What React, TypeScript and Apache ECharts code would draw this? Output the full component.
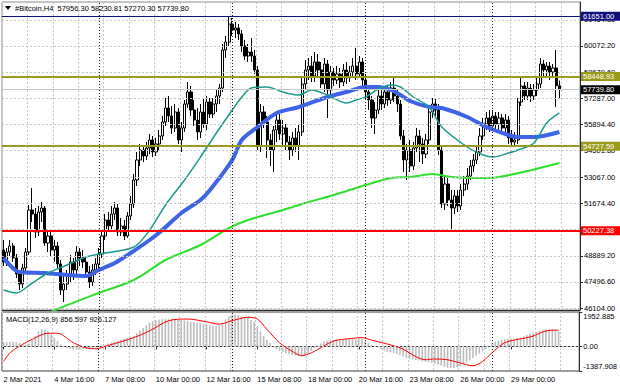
import React, { useEffect, useRef } from "react";
import * as echarts from "echarts";

// ---------- data ----------
const symbolName = "#Bitcoin,H4";

const opens = [
  49196, 48556, 49089, 49409, 48770, 47917, 47383, 48236, 49089, 51328,
  51115, 50156, 51222, 51435, 49569, 49942, 49196, 49409, 48450, 47064,
  47383, 47810, 48556, 48130, 49089, 48770, 48556, 48023, 47490, 48130,
  48450, 48983, 49942, 50795, 50475, 51115, 51435, 50156, 50475, 49942,
  51009, 51648, 52928, 53994, 54527, 54207, 54634, 55060, 54420, 54847,
  55273, 56020, 56766, 56340, 55700, 56553, 55060, 55700, 56979, 57619,
  56659, 56126, 55487, 56553, 55913, 57086, 56446, 56979, 57406, 57832,
  59858, 60285, 61244, 60924, 61031, 60711, 60071, 59538, 59751, 59538,
  58792, 54740, 56553, 56020, 55060, 54527, 55593, 56126, 55380, 55700,
  54954, 54527, 55167, 54740, 55487, 58046, 58792, 59005, 58472, 59218,
  58792, 58046, 59112, 57726, 58685, 58259, 58579, 58152, 58792, 58365,
  58685, 59005, 58579, 59218, 58259, 57619, 57193, 56233, 56659, 57406,
  56979, 57619, 57193, 57832, 57406, 56979, 55273, 53994, 54527, 53674,
  54634, 55273, 54847, 54314, 55060, 56553, 56979, 56659, 54527, 51648,
  52715, 51862, 51435, 52075, 51542, 52395, 52715, 53141, 53674, 53994,
  54420, 55273, 55913, 56233, 55806, 56340, 55913, 56233, 55700, 56126,
  55167, 54954, 55060, 57086, 57939, 57406, 57832, 57406, 57726, 58046,
  59112, 58792, 59005, 58685, 58898, 57956.3,
];

const closes = [
  48556, 49089, 49409, 48770, 47917, 47383, 48236, 49089, 51328, 51115,
  50156, 51222, 51435, 49569, 49942, 49196, 49409, 48450, 47064, 47383,
  47810, 48556, 48130, 49089, 48770, 48556, 48023, 47490, 48130, 48450,
  48983, 49942, 50795, 50475, 51115, 51435, 50156, 50475, 49942, 51009,
  51648, 52928, 53994, 54527, 54207, 54634, 55060, 54420, 54847, 55273,
  56020, 56766, 56340, 55700, 56553, 55060, 55700, 56979, 57619, 56659,
  56126, 55487, 56553, 55913, 57086, 56446, 56979, 57406, 57832, 59858,
  60285, 61244, 60924, 61031, 60711, 60071, 59538, 59751, 59538, 58792,
  54740, 56553, 56020, 55060, 54527, 55593, 56126, 55380, 55700, 54954,
  54527, 55167, 54740, 55487, 58046, 58792, 59005, 58472, 59218, 58792,
  58046, 59112, 57726, 58685, 58259, 58579, 58152, 58792, 58365, 58685,
  59005, 58579, 59218, 58259, 57619, 57193, 56233, 56659, 57406, 56979,
  57619, 57193, 57832, 57406, 56979, 55273, 53994, 54527, 53674, 54634,
  55273, 54847, 54314, 55060, 56553, 56979, 56659, 54527, 51648, 52715,
  51862, 51435, 52075, 51542, 52395, 52715, 53141, 53674, 53994, 54420,
  55273, 55913, 56233, 55806, 56340, 55913, 56233, 55700, 56126, 55167,
  54954, 55060, 57086, 57939, 57406, 57832, 57406, 57726, 58046, 59112,
  58792, 59005, 58685, 58898, 57956.3, 57739.8,
];

const highs = [
  49729, 49303, 49729, 49569, 48983, 48130, 48450, 49303, 51595, 52501,
  51435, 51542, 51755, 51542, 50262, 50156, 49729, 49623, 48663, 47810,
  48130, 48930, 48770, 49409, 49303, 49196, 48770, 48343, 48450, 48770,
  49303, 50262, 51115, 51222, 51542, 51755, 51648, 50902, 50795, 51222,
  52075, 53248, 54420, 54847, 54794, 54954, 55380, 55273, 55167, 55593,
  56340, 57299, 57406, 56873, 56979, 56766, 56020, 57193, 58152, 57939,
  57193, 56766, 56979, 57299, 57406, 57299, 57299, 57726, 58046, 60178,
  60604, 61620, 61560, 61351, 61244, 60924, 60391, 60178, 60498, 59858,
  59005, 56979, 56873, 56340, 55380, 55806, 56446, 56446, 56126, 55913,
  55273, 55487, 55700, 55913, 58365, 59325, 59432, 59538, 59751, 59645,
  59218, 59432, 59325, 59005, 58898, 59005, 58898, 59112, 59218, 59005,
  59432, 59965, 59538, 59432, 58579, 57939, 57406, 57086, 57726, 57832,
  57939, 57939, 58152, 58419, 57726, 57193, 55593, 54847, 55060, 54954,
  55700, 55593, 55167, 55380, 56873, 57299, 57299, 56979, 54740, 53141,
  53034, 52395, 52395, 52395, 52715, 53141, 53567, 53994, 54314, 54740,
  55700, 56233, 56553, 56659, 56659, 56553, 56553, 56446, 56446, 56340,
  55593, 55487, 57299, 58365, 58152, 58152, 58046, 58046, 58365, 59432,
  59325, 59218, 59218, 59112, 59858, 58230.81,
];

const lows = [
  48343, 48343, 48876, 48556, 47703, 47064, 47170, 48023, 48930, 50689,
  49836, 49942, 50689, 49409, 49089, 48876, 48556, 48236, 46797, 46424,
  47064, 47490, 47597, 47917, 48343, 48236, 47810, 47170, 47277, 47863,
  48236, 48770, 49729, 50156, 50262, 50795, 49942, 49942, 49729, 49836,
  50795, 51435, 52608, 53674, 53887, 53994, 54314, 54154, 54207, 54527,
  55060, 55806, 56020, 55380, 55487, 54847, 54420, 55487, 56766, 56340,
  55806, 55060, 55167, 55700, 55593, 56233, 56233, 56553, 56979, 57619,
  59432, 60071, 60604, 60498, 60391, 59751, 59325, 59218, 59218, 58579,
  54527, 54420, 55700, 54101, 53674, 53354, 54954, 55060, 54740, 54527,
  53994, 54207, 54420, 53994, 55273, 57726, 58259, 58152, 58152, 58365,
  57832, 57619, 56233, 57406, 57939, 58046, 57832, 57939, 58046, 58152,
  58365, 58259, 58365, 57939, 57193, 56659, 55700, 55380, 56446, 56659,
  56766, 56873, 56979, 57086, 56553, 55060, 53354, 52928, 53354, 53461,
  54420, 53887, 53781, 54101, 54847, 56233, 56233, 54261, 51435, 51328,
  51542, 50262, 51115, 51222, 51328, 52075, 52395, 52928, 53354, 53781,
  54207, 55060, 55593, 55487, 55593, 55487, 55593, 55380, 55273, 54847,
  54740, 54740, 54847, 56873, 57193, 57193, 57086, 57193, 57406, 57832,
  58472, 58365, 58259, 58365, 56819, 57270.3,
];

// moving averages, read as [bar index, price]
const maFast = [
  [0, 47064], [4, 46904], [9, 47437], [14, 47970], [20, 48397], [26, 48823],
  [30, 48983], [41, 49356], [46, 50262], [51, 51595], [57, 52928], [62, 54154],
  [67, 55433], [72, 56659], [75, 57352], [78, 57832], [83, 57886], [88, 57619],
  [93, 57459], [97, 57726], [102, 57459], [108, 57033], [111, 57193], [114, 57352],
  [118, 57779], [122, 57992], [125, 57886], [129, 57352], [134, 56819], [138, 55753],
  [146, 54687], [151, 54261], [154, 54154], [159, 54367], [162, 54527], [167, 54900],
  [171, 55966], [175, 56500],
];
const maSlow = [
  [0, 48770], [5, 48023], [13, 47970], [20, 47863], [26, 47810], [30, 48130],
  [35, 48503], [40, 49036], [46, 49729], [50, 50262], [56, 51168], [62, 51862],
  [65, 52395], [72, 53994], [75, 55060], [80, 55753], [86, 56500], [93, 56819],
  [102, 57352], [108, 57619], [114, 57886], [118, 57886], [122, 57726], [125, 57459],
  [128, 57139], [134, 56819], [138, 56766], [146, 56286], [152, 55753], [159, 55327],
  [162, 55220], [167, 55220], [175, 55487],
];
const ma200 = [
  [11, 45571], [17, 46051], [30, 46904], [41, 47597], [51, 48663], [62, 49463],
  [71, 50369], [77, 50795], [88, 51328], [95, 51701], [104, 52128], [114, 52661],
  [122, 53034], [128, 53088], [135, 53248], [141, 53088], [152, 53034], [156, 53088],
  [165, 53408], [175, 53834],
];

const macdHist = [
  250, 230, 260, 280, 250, 200, 120, 80, 150, 350,
  600, 850, 980, 960, 850, 700, 500, 300, 100, -40,
  -100, -140, -160, -170, -150, -140, -150, -130, -100, -60,
  -20, 40, 100, 160, 220, 280, 330, 380, 430, 480,
  540, 600, 750, 900, 1050, 1200, 1330, 1420, 1480, 1520,
  1540, 1560, 1570, 1560, 1550, 1520, 1500, 1480, 1450, 1400,
  1380, 1350, 1320, 1280, 1250, 1220, 1180, 1150, 1180, 1350,
  1550, 1700, 1780, 1790, 1760, 1700, 1650, 1600, 1500, 1400,
  1150, 850, 600, 380, 200, 20, -150, -250, -330, -400,
  -430, -480, -520, -550, -560, -500, -380, -250, -100, 50,
  180, 280, 320, 350, 370, 390, 400, 410, 420, 430,
  440, 450, 440, 420, 300, 200, 100, 30, -60, -150,
  -220, -280, -330, -380, -430, -500, -580, -640, -680, -720,
  -760, -800, -840, -870, -900, -940, -980, -1020, -1080, -1150,
  -1200, -1230, -1220, -1180, -1100, -1000, -900, -800, -650, -520,
  -400, -280, -150, -20, 120, 250, 330, 390, 420, 440,
  450, 460, 480, 520, 580, 650, 720, 780, 830, 880,
  920, 960, 990, 1000, 960, 856.597,
];
const macdSignal = [
  [0, -847], [2, -363], [5, 17], [9, 403], [14, 749], [17, 749], [22, 213],
  [26, -75], [29, -132], [33, 58], [41, 501], [46, 881], [52, 1457], [58, 1555],
  [64, 1400], [68, 1267], [72, 1457], [77, 1653], [80, 1555], [83, 979], [87, 213],
  [91, -271], [94, -518], [97, -363], [99, -173], [104, 305], [109, 444], [113, 501],
  [116, 363], [125, -75], [133, -749], [136, -708], [140, -749], [144, -939],
  [148, -1094], [151, -847], [154, -363], [158, 213], [165, 501], [167, 593],
  [171, 881], [175, 926.127],
];

const priceTicks = [
  46104.0, 47496.6, 48889.2, 50281.8, 51674.4, 53067.0,
  54501.8, 55894.4, 57287.0, 58679.6, 60072.2, 61464.8,
];
const macdTicks = [-1387.908, 0, 1952.885];
const macdTickLabels = ["-1387.908", "0.00", "1952.885"];

const xTickLabels = [
  "2 Mar 2021", "4 Mar 16:00", "7 Mar 08:00", "10 Mar 00:00", "12 Mar 16:00",
  "15 Mar 08:00", "18 Mar 00:00", "20 Mar 16:00", "23 Mar 08:00", "26 Mar 00:00",
  "29 Mar 00:00",
];
const weekSeparators = ["7 Mar 00:00", "14 Mar 00:00", "21 Mar 00:00", "28 Mar 00:00"];

const levels = [
  { value: 61651.0, color: "#10107a", width: 1.2 },
  { value: 58448.93, color: "#9a9a1c", width: 2 },
  { value: 54727.59, color: "#9a9a1c", width: 2 },
  { value: 50227.38, color: "#ff0000", width: 2 },
];
const bidPrice = 57739.8;

const MONTHS = ["Jan", "Feb", "Mar", "Apr", "May", "Jun", "Jul", "Aug", "Sep", "Oct", "Nov", "Dec"];
const startTime = Date.UTC(2021, 2, 2, 0, 0);
const skippedBars = ["27 Mar 16:00", "27 Mar 20:00"];
const rightMarginSlots = 6;
const labelEvery = 16;
const gridEvery = 8;

// ---------- helpers ----------
function fmtTime(t: number) {
  const d = new Date(t);
  return `${d.getUTCDate()} ${MONTHS[d.getUTCMonth()]} ${String(d.getUTCHours()).padStart(2, "0")}:00`;
}
function buildCategories() {
  const out: string[] = [];
  let t = startTime;
  while (out.length < opens.length) {
    const s = fmtTime(t);
    if (!skippedBars.includes(s)) out.push(s);
    t += 4 * 3600 * 1000;
  }
  for (let k = 1; k <= rightMarginSlots; k++) out.push(`+${k}`);
  return out;
}

const FONT = "'Liberation Sans', Arial, sans-serif";
const FS = 7.5;
const GRID_DASH = "#c6c6c6";

function buildOption() {
  const categories = buildCategories();
  const n = opens.length;
  const last = n - 1;
  const candles = opens.map((o, i) => [o, closes[i], lows[i], highs[i]]);
  const labelInterval = (idx: number) => idx % labelEvery === 0 && idx < n;
  const vSplit = {
    show: true,
    interval: gridEvery - 1,
    lineStyle: { color: GRID_DASH, type: [2, 2], width: 1 },
  };
  const sepLine = {
    silent: true,
    symbol: ["none", "none"],
    label: { show: false },
    lineStyle: { color: "#202020", type: [1, 2], width: 1 },
    data: weekSeparators.map((c) => ({ xAxis: c })),
  };
  const title = `${symbolName}  ${opens[last].toFixed(2)} ${highs[last].toFixed(2)} ${lows[last].toFixed(2)} ${closes[last].toFixed(2)}`;
  const macdTitle = `MACD(12,26,9) ${macdHist[last].toFixed(3)} ${macdSignal[macdSignal.length - 1][1].toFixed(3)}`;

  const levelLabel = (bg: string) => ({
    show: true,
    position: "end",
    distance: 1,
    formatter: (p: any) => Number(p.value).toFixed(2),
    color: "#ffffff",
    backgroundColor: bg,
    padding: [1, 6, 0, 2],
    lineHeight: 8,
    fontSize: FS,
    fontFamily: FONT,
  });

  return {
    animation: false,
    backgroundColor: "#ffffff",
    textStyle: { fontFamily: FONT },
    grid: [
      { left: 2, top: 2, width: 578, height: 308, show: true, borderColor: "#8a8a8a", borderWidth: 1, backgroundColor: "#ffffff" },
      { left: 2, top: 312, width: 578, height: 59, show: true, borderColor: "#3a3a3a", borderWidth: 1, backgroundColor: "#ffffff" },
    ],
    xAxis: [
      {
        type: "category", gridIndex: 0, data: categories, boundaryGap: true,
        axisLine: { show: true, lineStyle: { color: "#2a2a2a", width: 1 } },
        axisTick: { show: false }, axisLabel: { show: false },
        splitLine: vSplit,
      },
      {
        type: "category", gridIndex: 1, data: categories, boundaryGap: true,
        axisLine: { show: true, lineStyle: { color: "#2a2a2a", width: 1 } },
        axisTick: { show: true, interval: labelInterval, alignWithLabel: true, length: 3, lineStyle: { color: "#2a2a2a" } },
        axisLabel: {
          show: true, interval: labelInterval, align: "left", margin: 4,
          formatter: (_v: string, idx: number) => xTickLabels[Math.round(idx / labelEvery)] ?? "",
          fontSize: FS, color: "#000000", fontFamily: FONT,
        },
        splitLine: vSplit,
      },
    ],
    yAxis: [
      {
        type: "value", gridIndex: 0, position: "right", min: 45997.4, max: 62416.9, scale: true,
        axisLine: { show: true, lineStyle: { color: "#2a2a2a", width: 1 } },
        axisTick: { show: true, customValues: priceTicks, length: 3, lineStyle: { color: "#2a2a2a" } },
        axisLabel: {
          show: true, customValues: priceTicks, margin: 4,
          formatter: (v: number) => v.toFixed(2), fontSize: FS, color: "#000000", fontFamily: FONT,
        },
        splitLine: { show: false },
      },
      {
        type: "value", gridIndex: 1, position: "right", min: macdTicks[0], max: macdTicks[2],
        axisLine: { show: true, lineStyle: { color: "#2a2a2a", width: 1 } },
        axisTick: { show: true, customValues: macdTicks, length: 3, lineStyle: { color: "#2a2a2a" } },
        axisLabel: {
          show: true, customValues: macdTicks, margin: 4,
          formatter: (v: number) => {
            const k = macdTicks.findIndex((t) => Math.abs(t - v) < 1e-6);
            const txt = macdTickLabels[k] ?? "";
            return k === 2 ? `{t|${txt}}` : k === 0 ? `{b|${txt}}` : `{m|${txt}}`;
          },
          rich: {
            t: { padding: [9, 0, 0, 0], fontSize: FS, color: "#000", fontFamily: FONT },
            b: { padding: [0, 0, 9, 0], fontSize: FS, color: "#000", fontFamily: FONT },
            m: { fontSize: FS, color: "#000", fontFamily: FONT },
          },
        },
        splitLine: { show: false },
      },
    ],
    graphic: [
      { type: "polygon", z: 100, shape: { points: [[5, 6], [11, 6], [8, 10]] }, style: { fill: "#000" } },
      { type: "text", z: 100, x: 15, y: 8, style: { text: title, fontSize: FS, fontFamily: FONT, fill: "#000", verticalAlign: "middle" } },
      { type: "text", z: 100, x: 6, y: 319, style: { text: macdTitle, fontSize: FS, fontFamily: FONT, fill: "#000", verticalAlign: "middle" } },
    ],
    series: [
      {
        name: "grid", type: "line", xAxisIndex: 0, yAxisIndex: 0, data: [], z: 1,
        markLine: {
          silent: true, symbol: ["none", "none"], label: { show: false },
          lineStyle: { color: GRID_DASH, type: [2, 2], width: 1 },
          data: priceTicks.map((v) => ({ yAxis: v })),
        },
      },
      {
        name: "bid", type: "line", xAxisIndex: 0, yAxisIndex: 0, data: [], z: 1,
        markLine: {
          silent: true, symbol: ["none", "none"],
          lineStyle: { color: "#c8c8c8", type: "solid", width: 1 },
          label: levelLabel("#000000"),
          data: [{ yAxis: bidPrice }],
        },
      },
      {
        name: "separators", type: "line", xAxisIndex: 0, yAxisIndex: 0, data: [], z: 1,
        markLine: sepLine,
      },
      {
        name: "price", type: "candlestick", xAxisIndex: 0, yAxisIndex: 0, data: candles, z: 2,
        barWidth: 2.6, large: false,
        itemStyle: { color: "#ffffff", color0: "#000000", borderColor: "#000000", borderColor0: "#000000", borderWidth: 1 },
      },
      {
        name: "ma200", type: "line", xAxisIndex: 0, yAxisIndex: 0, data: ma200, z: 3,
        showSymbol: false, smooth: 0.3, clip: true,
        lineStyle: { color: "#2ee02e", width: 2 },
      },
      {
        name: "maSlow", type: "line", xAxisIndex: 0, yAxisIndex: 0, data: maSlow, z: 3,
        showSymbol: false, smooth: 0.3,
        lineStyle: { color: "#3d63e6", width: 4 },
      },
      {
        name: "maFast", type: "line", xAxisIndex: 0, yAxisIndex: 0, data: maFast, z: 3,
        showSymbol: false, smooth: 0.3,
        lineStyle: { color: "#1c9a8c", width: 1.5 },
      },
      {
        name: "levels", type: "line", xAxisIndex: 0, yAxisIndex: 0, data: [], z: 5,
        markLine: {
          silent: true, symbol: ["none", "none"],
          data: levels.map((l) => ({
            yAxis: l.value,
            lineStyle: { color: l.color, width: l.width, type: "solid" },
            label: levelLabel(l.color),
          })),
        },
      },
      {
        name: "macdGrid", type: "line", xAxisIndex: 1, yAxisIndex: 1, data: [], z: 1,
        markLine: {
          silent: true, symbol: ["none", "none"], label: { show: false },
          lineStyle: { color: GRID_DASH, type: [2, 2], width: 1 },
          data: [{ yAxis: 0 }],
        },
      },
      {
        name: "macdSep", type: "line", xAxisIndex: 1, yAxisIndex: 1, data: [], z: 1,
        markLine: sepLine,
      },
      {
        name: "MACD", type: "bar", xAxisIndex: 1, yAxisIndex: 1, data: macdHist, z: 2,
        barWidth: 1.6, itemStyle: { color: "#bcbcbc" },
      },
      {
        name: "Signal", type: "line", xAxisIndex: 1, yAxisIndex: 1, data: macdSignal, z: 3,
        showSymbol: false, smooth: 0.3,
        lineStyle: { color: "#ff0000", width: 1 },
      },
    ],
  };
}

export default function App() {
  const ref = useRef<HTMLDivElement>(null);
  useEffect(() => {
    if (!ref.current) return;
    const chart = echarts.init(ref.current, null, { renderer: "svg" });
    chart.setOption(buildOption() as any);
    return () => chart.dispose();
  }, []);
  return (
    <div
      ref={ref}
      style={{ position: "absolute", left: 0, top: 0, width: 620, height: 388, background: "#ffffff" }}
    />
  );
}
